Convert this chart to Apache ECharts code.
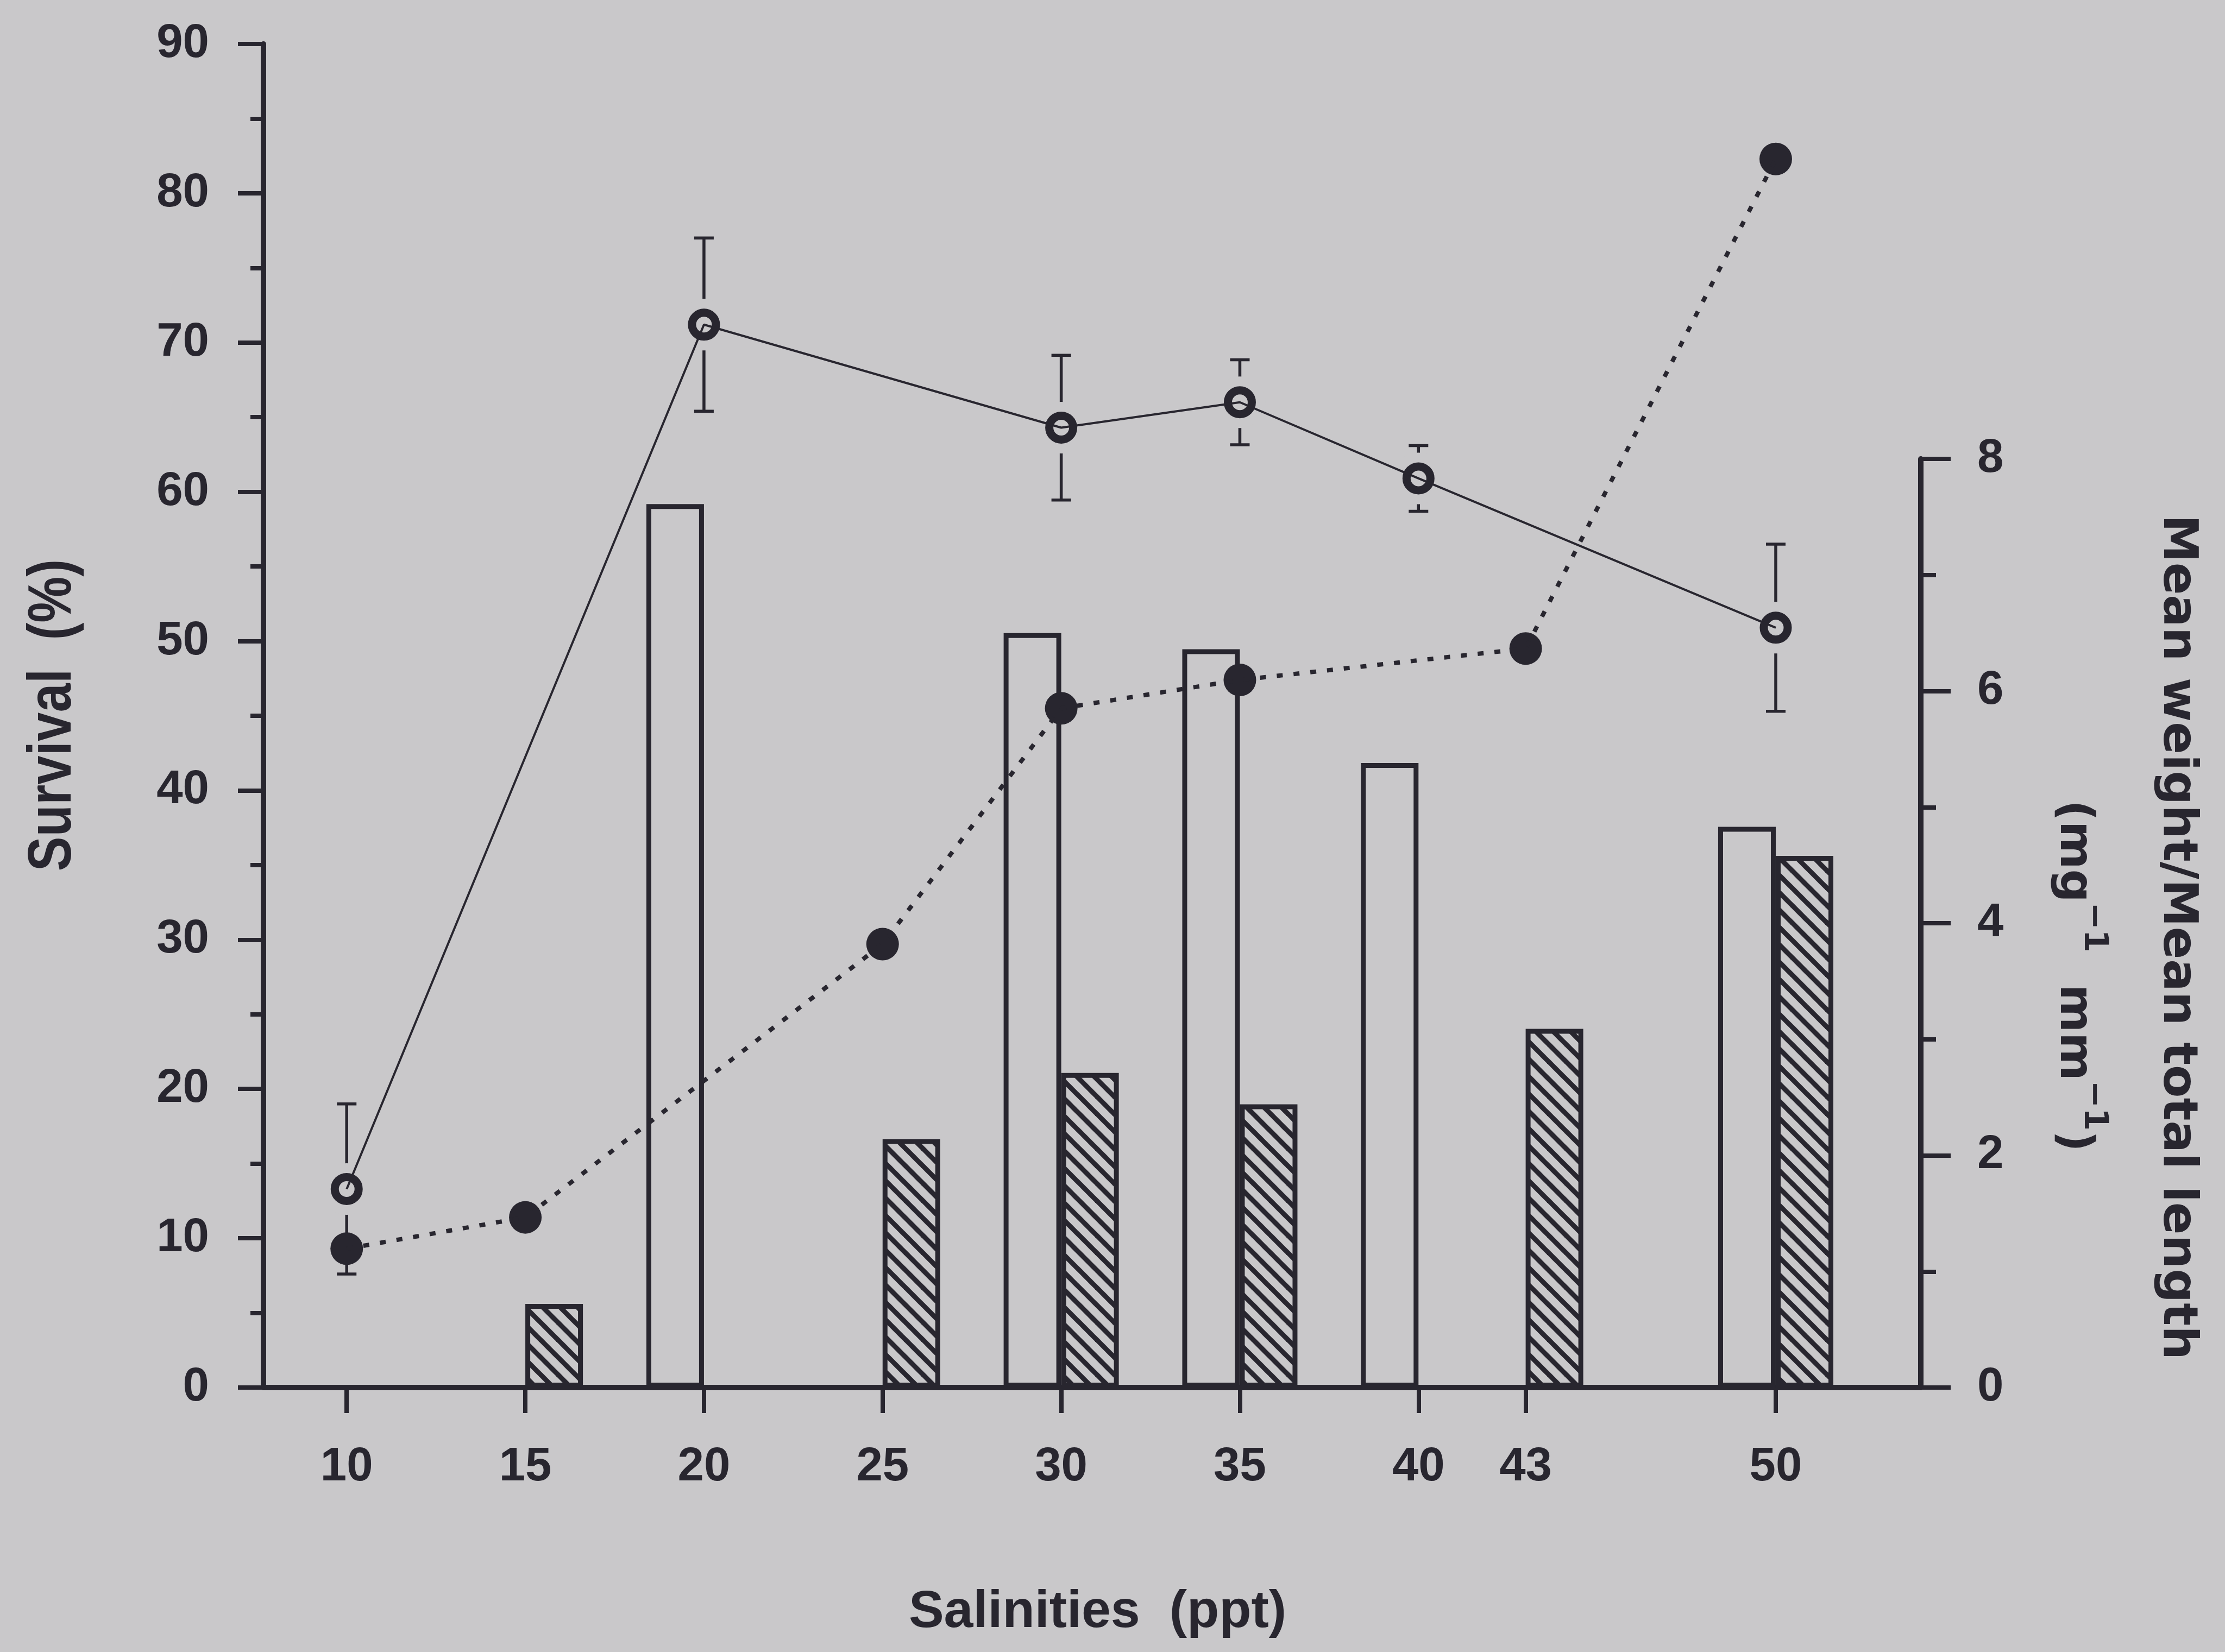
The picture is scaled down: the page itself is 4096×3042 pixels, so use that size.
<!DOCTYPE html>
<html>
<head>
<meta charset="utf-8">
<script src="https://cdn.jsdelivr.net/npm/echarts@6/dist/echarts.min.js"></script>
<style>
  html, body { margin: 0; padding: 0; background: #c9c8ca; }
  #chart { width: 4096px; height: 3042px; }
</style>
</head>
<body>
<div id="chart"></div>
<script>
// Salinity tick positions on the x axis (ppt)
const salinityTicks = [10, 15, 20, 25, 30, 35, 40, 43, 50];

// Survival (%) with standard deviation, open circles
const survivalSalinity = [10, 20, 30, 35, 40, 50];
const survivalMean = [13.3, 71.2, 64.3, 66.0, 60.9, 50.9];
const survivalSD = [5.7, 5.8, 4.85, 2.85, 2.2, 5.6];

// Filled circles on the percentage axis, dotted line
const filledSalinity = [10, 15, 25, 30, 35, 43, 50];
const filledValue = [9.3, 11.4, 29.7, 45.5, 47.4, 49.5, 82.3];

// Mean weight / mean total length, open bars
const openBarSalinity = [20, 30, 35, 40, 50];
const openBarValue = [7.61, 6.50, 6.36, 5.38, 4.83];

// Mean weight / mean total length, hatched bars
const hatchBarSalinity = [15, 25, 30, 35, 43, 50];
const hatchBarValue = [0.72, 2.14, 2.71, 2.44, 3.09, 4.58];

const INK = '#28262f';
const BG = '#c9c8ca';
const SANS = "'Liberation Sans', Arial, Helvetica, sans-serif";
const WIDE = "'DejaVu Sans', Verdana, sans-serif";

const pairs = (xs, ys) => xs.map((x, i) => [x, ys[i]]);

// Diagonal hatch tile for the hatched bars
function hatchTile() {
  const s = 32;
  const c = document.createElement('canvas');
  c.width = s; c.height = s;
  const g = c.getContext('2d');
  g.fillStyle = BG;
  g.fillRect(0, 0, s, s);
  g.strokeStyle = INK;
  g.lineWidth = 9;
  for (const o of [-s, 0, s]) {
    g.beginPath();
    g.moveTo(o - 6, -6);
    g.lineTo(o + s + 6, s + 6);
    g.stroke();
  }
  return c;
}

const chart = echarts.init(document.getElementById('chart'), null, { renderer: 'canvas' });

const xMin = 7.67, xMax = 54.06;
const gridLeft = 485, gridRight = 560, gridBottom = 487;
const tickFont = { color: INK, fontFamily: SANS, fontWeight: 'bold', fontSize: 87 };

const option = {
  backgroundColor: BG,
  animation: false,
  grid: [
    { left: gridLeft, right: gridRight, top: 81, bottom: gridBottom, outerBoundsMode: 'none' },
    { left: gridLeft, right: gridRight, top: 845, bottom: gridBottom, outerBoundsMode: 'none' }
  ],
  xAxis: [
    {
      type: 'value', gridIndex: 0, min: xMin, max: xMax,
      name: 'Salinities  (ppt)', nameLocation: 'middle', nameGap: 366,
      nameTextStyle: { color: INK, fontFamily: SANS, fontWeight: 'bold', fontSize: 97, padding: [0, 0, 0, 20] },
      axisLine: { show: true, onZero: false, lineStyle: { color: INK, width: 10 } },
      axisTick: { show: true, customValues: salinityTicks, length: 47, lineStyle: { color: INK, width: 8 } },
      axisLabel: Object.assign({ show: true, customValues: salinityTicks, margin: 104 }, tickFont),
      splitLine: { show: false }
    },
    {
      type: 'value', gridIndex: 1, min: xMin, max: xMax, show: false,
      splitLine: { show: false }
    }
  ],
  yAxis: [
    {
      type: 'value', gridIndex: 0, position: 'left', min: 0, max: 90, interval: 10,
      axisLine: { show: true, lineStyle: { color: INK, width: 10 } },
      axisTick: { show: true, length: 47, lineStyle: { color: INK, width: 8 } },
      minorTick: { show: true, splitNumber: 2, length: 24, lineStyle: { color: INK, width: 8 } },
      axisLabel: Object.assign({ margin: 100 }, tickFont),
      splitLine: { show: false }
    },
    {
      type: 'value', gridIndex: 1, position: 'right', min: 0, max: 8, interval: 2,
      axisLine: { show: true, lineStyle: { color: INK, width: 10 } },
      axisTick: { show: true, length: 55, lineStyle: { color: INK, width: 8 } },
      minorTick: { show: true, splitNumber: 2, length: 28, lineStyle: { color: INK, width: 8 } },
      axisLabel: Object.assign({ margin: 104 }, tickFont),
      splitLine: { show: false }
    }
  ],
  graphic: [
    {
      // left axis title, set in a condensed cut
      type: 'text', x: 99, y: 1317, rotation: Math.PI / 2, scaleX: 0.84, silent: true,
      style: {
        text: 'Survival  (%)',
        fontFamily: SANS, fontWeight: 'bold', fontSize: 114, fill: INK,
        align: 'center', verticalAlign: 'middle'
      }
    },
    {
      type: 'text', x: 4007, y: 1726, rotation: -Math.PI / 2, silent: true,
      style: {
        text: 'Mean weight/Mean total length',
        fontFamily: WIDE, fontWeight: 'bold', fontSize: 88, fill: INK,
        align: 'center', verticalAlign: 'middle'
      }
    },
    {
      type: 'text', x: 3829, y: 1797, rotation: -Math.PI / 2, silent: true,
      style: {
        text: '{m|(mg}{s|\u22121}{m|  mm}{s|\u22121}{m|)}',
        align: 'center', verticalAlign: 'middle', fill: INK,
        rich: {
          m: { fontFamily: WIDE, fontWeight: 'bold', fontSize: 85, lineHeight: 110, verticalAlign: 'bottom', fill: INK },
          s: { fontFamily: WIDE, fontWeight: 'bold', fontSize: 60, verticalAlign: 'top', fill: INK }
        }
      }
    }
  ],
  series: [
    {
      name: 'Open bars', type: 'bar', xAxisIndex: 1, yAxisIndex: 1,
      data: pairs(openBarSalinity, openBarValue),
      barWidth: 106, barGap: '0%',
      itemStyle: { color: 'rgba(0,0,0,0)', borderColor: INK, borderWidth: 9 }
    },
    {
      name: 'Hatched bars', type: 'bar', xAxisIndex: 1, yAxisIndex: 1,
      data: pairs(hatchBarSalinity, hatchBarValue),
      barWidth: 106, barGap: '0%',
      itemStyle: { color: { image: hatchTile(), repeat: 'repeat' }, borderColor: INK, borderWidth: 9 }
    },
    {
      name: 'Survival', type: 'line', xAxisIndex: 0, yAxisIndex: 0,
      data: pairs(survivalSalinity, survivalMean),
      showSymbol: false, symbol: 'none',
      lineStyle: { color: INK, width: 4 }
    },
    {
      name: 'Filled', type: 'line', xAxisIndex: 0, yAxisIndex: 0,
      data: pairs(filledSalinity, filledValue),
      showSymbol: false, symbol: 'none',
      lineStyle: { color: INK, width: 8, type: [11, 20], cap: 'butt' }
    },
    {
      name: 'Survival SD', type: 'custom', xAxisIndex: 0, yAxisIndex: 0,
      data: survivalSalinity.map((x, i) => [x, survivalMean[i] - survivalSD[i], survivalMean[i] + survivalSD[i]]),
      encode: { x: 0, y: [1, 2] },
      renderItem: function (params, api) {
        const x = api.value(0);
        const lo = api.coord([x, api.value(1)]);
        const hi = api.coord([x, api.value(2)]);
        const half = 18;
        const st = { stroke: INK, lineWidth: 5.5 };
        return {
          type: 'group',
          children: [
            { type: 'line', shape: { x1: lo[0], y1: lo[1], x2: hi[0], y2: hi[1] }, style: st },
            { type: 'line', shape: { x1: hi[0] - half, y1: hi[1], x2: hi[0] + half, y2: hi[1] }, style: st },
            { type: 'line', shape: { x1: lo[0] - half, y1: lo[1], x2: lo[0] + half, y2: lo[1] }, style: st }
          ]
        };
      }
    },
    {
      name: 'Survival clearance', type: 'scatter', xAxisIndex: 0, yAxisIndex: 0,
      data: pairs(survivalSalinity, survivalMean),
      symbol: 'circle', symbolSize: 95,
      itemStyle: { color: BG, opacity: 1 }
    },
    {
      name: 'Survival points', type: 'scatter', xAxisIndex: 0, yAxisIndex: 0,
      data: pairs(survivalSalinity, survivalMean),
      symbol: 'circle', symbolSize: 44,
      itemStyle: { color: BG, borderColor: INK, borderWidth: 15, opacity: 1 }
    },
    {
      name: 'Filled points', type: 'scatter', xAxisIndex: 0, yAxisIndex: 0,
      data: pairs(filledSalinity, filledValue),
      symbol: 'circle', symbolSize: 60,
      itemStyle: { color: INK, opacity: 1 }
    }
  ]
};

chart.setOption(option);
</script>
</body>
</html>
